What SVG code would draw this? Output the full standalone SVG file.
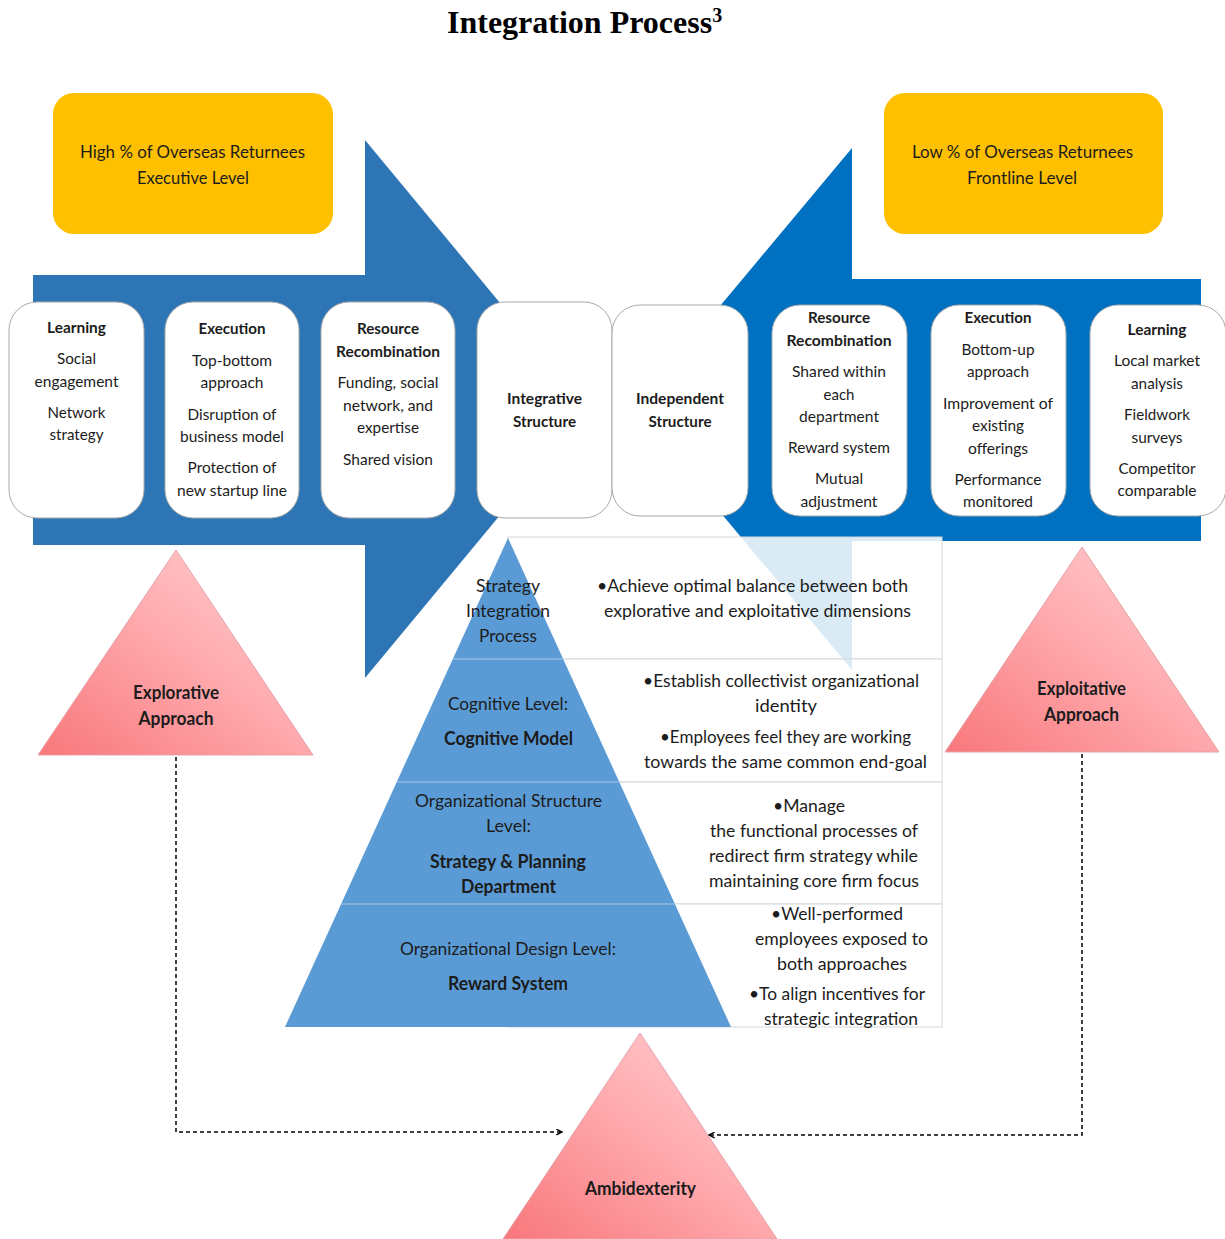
<svg xmlns="http://www.w3.org/2000/svg" width="1225" height="1239" viewBox="0 0 1225 1239">
  <defs>
    <style>
      .t { font-family: Lato, "Open Sans", "Liberation Sans", sans-serif; fill: #1c1c1c; text-anchor: middle; }
      .b { font-weight: 700; }
      .bx { font-size: 16px; }
      .pt { font-size: 18px; }
      .yl { font-size: 17px; }
      .box { fill: #ffffff; stroke: #a9a9a9; stroke-width: 1; }
      .yellow { fill: #ffc000; }
      .row { fill: #ffffff; fill-opacity: 0.86; stroke: #d4d8dc; stroke-width: 1; }
      .tri { fill: url(#pink); stroke: #e3a3a6; stroke-width: 1; }
      .dash { fill: none; stroke: #000; stroke-width: 1.5; stroke-dasharray: 4 3; }
    </style>
    <linearGradient id="pink" x1="0" y1="1" x2="1" y2="0">
      <stop offset="0" stop-color="#f8777b"/>
      <stop offset="0.55" stop-color="#ffadb1"/>
      <stop offset="1" stop-color="#ffd3d6"/>
    </linearGradient>
    <marker id="head" viewBox="0 0 10 10" refX="9" refY="5" markerWidth="7" markerHeight="7" markerUnits="userSpaceOnUse" orient="auto">
      <path d="M1,1 L9,5 L1,9" fill="none" stroke="#000" stroke-width="2"/>
    </marker>
  </defs>

  <rect width="1225" height="1239" fill="#ffffff"/>

  <!-- title -->
  <text x="447" y="33" font-family="'Liberation Serif', 'Times New Roman', serif" font-weight="700" font-size="32" fill="#000">Integration Process<tspan font-size="20" dy="-11">3</tspan></text>

  <!-- header labels -->
  <g id="high-returnees">
    <rect class="yellow" x="53" y="93" width="280" height="141" rx="21"/>
    <text class="t yl" x="192.5" y="158" textLength="225" lengthAdjust="spacingAndGlyphs">High % of Overseas Returnees</text>
    <text class="t yl" x="193" y="184" textLength="112" lengthAdjust="spacingAndGlyphs">Executive Level</text>
  </g>
  <g id="low-returnees">
    <rect class="yellow" x="884" y="93" width="279" height="141" rx="21"/>
    <text class="t yl" x="1022.5" y="158" textLength="221" lengthAdjust="spacingAndGlyphs">Low % of Overseas Returnees</text>
    <text class="t yl" x="1022" y="184" textLength="110" lengthAdjust="spacingAndGlyphs">Frontline Level</text>
  </g>

  <!-- process arrows -->
  <g id="explorative-arrow">
    <polygon points="33,275 365,275 365,140 588,409 365,678 365,545 33,545" fill="#2e75b6"/>
  </g>
  <g id="exploitative-arrow">
    <polygon points="1201,279 852,279 852,148 634,409 852,670 852,541 1201,541" fill="#0070c0"/>
  </g>

  <!-- integration table behind the pyramid -->
  <g id="integration-table">
    <rect class="row" x="508" y="537" width="434" height="122"/>
    <rect class="row" x="508" y="659" width="434" height="123"/>
    <rect class="row" x="508" y="782" width="434" height="122"/>
    <rect class="row" x="508" y="904" width="434" height="123"/>
  </g>

  <!-- pyramid of integration levels -->
  <g id="pyramid">
    <polygon points="508,538 731,1027 285,1027" fill="#5b9bd5"/>
    <g stroke="#a9c7e9" stroke-width="1">
      <line x1="452.8" y1="659" x2="563.2" y2="659"/>
      <line x1="396.7" y1="782" x2="619.3" y2="782"/>
      <line x1="341.1" y1="904" x2="674.9" y2="904"/>
    </g>
  </g>

  <g id="level-strategy">
    <text class="t pt" x="508" y="591.5" textLength="64" lengthAdjust="spacingAndGlyphs">Strategy</text>
    <text class="t pt" x="508" y="616.5" textLength="84" lengthAdjust="spacingAndGlyphs">Integration</text>
    <text class="t pt" x="508" y="642" textLength="58" lengthAdjust="spacingAndGlyphs">Process</text>
    <text class="t pt" x="752.5" y="591.5" textLength="311" lengthAdjust="spacingAndGlyphs">•Achieve optimal balance between both</text>
    <text class="t pt" x="757.5" y="616.5" textLength="307" lengthAdjust="spacingAndGlyphs">explorative and exploitative dimensions</text>
  </g>
  <g id="level-cognitive">
    <text class="t pt" x="508" y="709.5" textLength="120" lengthAdjust="spacingAndGlyphs">Cognitive Level:</text>
    <text class="t pt b" x="508.5" y="744.5" textLength="129" lengthAdjust="spacingAndGlyphs">Cognitive Model</text>
    <text class="t pt" x="781" y="686.5" textLength="276" lengthAdjust="spacingAndGlyphs">•Establish collectivist organizational</text>
    <text class="t pt" x="786" y="711.5" textLength="62" lengthAdjust="spacingAndGlyphs">identity</text>
    <text class="t pt" x="785.5" y="742.5" textLength="251" lengthAdjust="spacingAndGlyphs">•Employees feel they are working</text>
    <text class="t pt" x="785.5" y="767.5" textLength="283" lengthAdjust="spacingAndGlyphs">towards the same common end-goal</text>
  </g>
  <g id="level-structure">
    <text class="t pt" x="508.5" y="806.5" textLength="187" lengthAdjust="spacingAndGlyphs">Organizational Structure</text>
    <text class="t pt" x="508.5" y="831.5" textLength="45" lengthAdjust="spacingAndGlyphs">Level:</text>
    <text class="t pt b" x="508" y="867.5" textLength="156" lengthAdjust="spacingAndGlyphs">Strategy &amp; Planning</text>
    <text class="t pt b" x="508.5" y="892.5" textLength="95" lengthAdjust="spacingAndGlyphs">Department</text>
    <text class="t pt" x="809" y="811.5" textLength="72" lengthAdjust="spacingAndGlyphs">•Manage</text>
    <text class="t pt" x="814" y="836.5" textLength="208" lengthAdjust="spacingAndGlyphs">the functional processes of</text>
    <text class="t pt" x="813.5" y="861.5" textLength="209" lengthAdjust="spacingAndGlyphs">redirect firm strategy while</text>
    <text class="t pt" x="814" y="886.5" textLength="210" lengthAdjust="spacingAndGlyphs">maintaining core firm focus</text>
  </g>
  <g id="level-design">
    <text class="t pt" x="508" y="954.5" textLength="216" lengthAdjust="spacingAndGlyphs">Organizational Design Level:</text>
    <text class="t pt b" x="508" y="989.5" textLength="120" lengthAdjust="spacingAndGlyphs">Reward System</text>
    <text class="t pt" x="837" y="919.5" textLength="132" lengthAdjust="spacingAndGlyphs">•Well-performed</text>
    <text class="t pt" x="841.5" y="944.5" textLength="173" lengthAdjust="spacingAndGlyphs">employees exposed to</text>
    <text class="t pt" x="842" y="969.5" textLength="130" lengthAdjust="spacingAndGlyphs">both approaches</text>
    <text class="t pt" x="837" y="999.5" textLength="176" lengthAdjust="spacingAndGlyphs">•To align incentives for</text>
    <text class="t pt" x="841" y="1024.5" textLength="154" lengthAdjust="spacingAndGlyphs">strategic integration</text>
  </g>

  <!-- stage boxes along the arrows -->
  <g id="learning-explore">
    <rect class="box" x="9" y="302" width="135" height="216" rx="28"/>
    <text class="t bx b" x="76.5" y="333" textLength="59" lengthAdjust="spacingAndGlyphs">Learning</text>
    <text class="t bx" x="76.5" y="364" textLength="39" lengthAdjust="spacingAndGlyphs">Social</text>
    <text class="t bx" x="76.5" y="387" textLength="84" lengthAdjust="spacingAndGlyphs">engagement</text>
    <text class="t bx" x="76.5" y="418" textLength="58" lengthAdjust="spacingAndGlyphs">Network</text>
    <text class="t bx" x="76.5" y="440" textLength="54" lengthAdjust="spacingAndGlyphs">strategy</text>
  </g>
  <g id="execution-explore">
    <rect class="box" x="165" y="302" width="134" height="216" rx="28"/>
    <text class="t bx b" x="232" y="334" textLength="67" lengthAdjust="spacingAndGlyphs">Execution</text>
    <text class="t bx" x="232" y="366" textLength="80" lengthAdjust="spacingAndGlyphs">Top-bottom</text>
    <text class="t bx" x="232" y="388" textLength="63" lengthAdjust="spacingAndGlyphs">approach</text>
    <text class="t bx" x="232" y="420" textLength="89" lengthAdjust="spacingAndGlyphs">Disruption of</text>
    <text class="t bx" x="232" y="442" textLength="104" lengthAdjust="spacingAndGlyphs">business model</text>
    <text class="t bx" x="232" y="473" textLength="89" lengthAdjust="spacingAndGlyphs">Protection of</text>
    <text class="t bx" x="232" y="496" textLength="110" lengthAdjust="spacingAndGlyphs">new startup line</text>
  </g>
  <g id="resources-explore">
    <rect class="box" x="321" y="302" width="134" height="216" rx="28"/>
    <text class="t bx b" x="388" y="334" textLength="62" lengthAdjust="spacingAndGlyphs">Resource</text>
    <text class="t bx b" x="388" y="357" textLength="104" lengthAdjust="spacingAndGlyphs">Recombination</text>
    <text class="t bx" x="388" y="388" textLength="101" lengthAdjust="spacingAndGlyphs">Funding, social</text>
    <text class="t bx" x="388" y="411" textLength="90" lengthAdjust="spacingAndGlyphs">network, and</text>
    <text class="t bx" x="388" y="433" textLength="62" lengthAdjust="spacingAndGlyphs">expertise</text>
    <text class="t bx" x="388" y="465" textLength="90" lengthAdjust="spacingAndGlyphs">Shared vision</text>
  </g>
  <g id="integrative-structure">
    <rect class="box" x="477" y="302" width="135" height="216" rx="28"/>
    <text class="t bx b" x="544.5" y="404" textLength="75" lengthAdjust="spacingAndGlyphs">Integrative</text>
    <text class="t bx b" x="544.5" y="427" textLength="63" lengthAdjust="spacingAndGlyphs">Structure</text>
  </g>
  <g id="independent-structure">
    <rect class="box" x="612" y="305" width="136" height="211" rx="28"/>
    <text class="t bx b" x="680" y="404" textLength="88" lengthAdjust="spacingAndGlyphs">Independent</text>
    <text class="t bx b" x="680" y="427" textLength="63" lengthAdjust="spacingAndGlyphs">Structure</text>
  </g>
  <g id="resources-exploit">
    <rect class="box" x="772" y="305" width="135" height="211" rx="28"/>
    <text class="t bx b" x="839" y="323" textLength="62" lengthAdjust="spacingAndGlyphs">Resource</text>
    <text class="t bx b" x="839" y="346" textLength="105" lengthAdjust="spacingAndGlyphs">Recombination</text>
    <text class="t bx" x="839" y="377" textLength="94" lengthAdjust="spacingAndGlyphs">Shared within</text>
    <text class="t bx" x="839" y="400" textLength="31" lengthAdjust="spacingAndGlyphs">each</text>
    <text class="t bx" x="839" y="422" textLength="80" lengthAdjust="spacingAndGlyphs">department</text>
    <text class="t bx" x="839" y="453" textLength="102" lengthAdjust="spacingAndGlyphs">Reward system</text>
    <text class="t bx" x="839" y="484" textLength="48" lengthAdjust="spacingAndGlyphs">Mutual</text>
    <text class="t bx" x="839" y="507" textLength="77" lengthAdjust="spacingAndGlyphs">adjustment</text>
  </g>
  <g id="execution-exploit">
    <rect class="box" x="931" y="305" width="135" height="211" rx="28"/>
    <text class="t bx b" x="998" y="323" textLength="67" lengthAdjust="spacingAndGlyphs">Execution</text>
    <text class="t bx" x="998" y="355" textLength="73" lengthAdjust="spacingAndGlyphs">Bottom-up</text>
    <text class="t bx" x="998" y="377" textLength="62" lengthAdjust="spacingAndGlyphs">approach</text>
    <text class="t bx" x="998" y="409" textLength="110" lengthAdjust="spacingAndGlyphs">Improvement of</text>
    <text class="t bx" x="998" y="431" textLength="52" lengthAdjust="spacingAndGlyphs">existing</text>
    <text class="t bx" x="998" y="454" textLength="60" lengthAdjust="spacingAndGlyphs">offerings</text>
    <text class="t bx" x="998" y="485" textLength="87" lengthAdjust="spacingAndGlyphs">Performance</text>
    <text class="t bx" x="998" y="507" textLength="70" lengthAdjust="spacingAndGlyphs">monitored</text>
  </g>
  <g id="learning-exploit">
    <rect class="box" x="1090" y="305" width="136" height="211" rx="28"/>
    <text class="t bx b" x="1157" y="335" textLength="59" lengthAdjust="spacingAndGlyphs">Learning</text>
    <text class="t bx" x="1157" y="366" textLength="86" lengthAdjust="spacingAndGlyphs">Local market</text>
    <text class="t bx" x="1157" y="389" textLength="52" lengthAdjust="spacingAndGlyphs">analysis</text>
    <text class="t bx" x="1157" y="420" textLength="66" lengthAdjust="spacingAndGlyphs">Fieldwork</text>
    <text class="t bx" x="1157" y="443" textLength="51" lengthAdjust="spacingAndGlyphs">surveys</text>
    <text class="t bx" x="1157" y="474" textLength="77" lengthAdjust="spacingAndGlyphs">Competitor</text>
    <text class="t bx" x="1157" y="496" textLength="79" lengthAdjust="spacingAndGlyphs">comparable</text>
  </g>

  <!-- approach triangles -->
  <g id="explorative-approach">
    <polygon class="tri" points="176,550 313,755 38,755"/>
    <text class="t pt b" x="176" y="698.5" textLength="86" lengthAdjust="spacingAndGlyphs">Explorative</text>
    <text class="t pt b" x="176" y="724.5" textLength="75" lengthAdjust="spacingAndGlyphs">Approach</text>
  </g>
  <g id="exploitative-approach">
    <polygon class="tri" points="1082,547 1219,752 945,752"/>
    <text class="t pt b" x="1081.5" y="694.5" textLength="89" lengthAdjust="spacingAndGlyphs">Exploitative</text>
    <text class="t pt b" x="1081.5" y="720.5" textLength="75" lengthAdjust="spacingAndGlyphs">Approach</text>
  </g>
  <g id="ambidexterity">
    <polygon class="tri" points="640,1033 777,1239 503,1239"/>
    <text class="t pt b" x="640.5" y="1194.5" textLength="111" lengthAdjust="spacingAndGlyphs">Ambidexterity</text>
  </g>

  <!-- connectors -->
  <g id="connectors">
    <path class="dash" d="M176,757 V1132 H562" marker-end="url(#head)"/>
    <path class="dash" d="M1082,754 V1135 H709" marker-end="url(#head)"/>
  </g>
</svg>
